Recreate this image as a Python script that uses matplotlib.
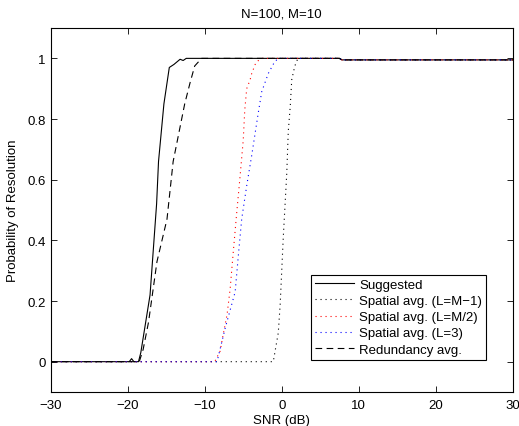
import matplotlib
matplotlib.use('Agg')
from matplotlib import pyplot as plt

plt.rcParams['font.family'] = ['Liberation Sans', 'DejaVu Sans']

# Suggested method
snr_sug = [-30, -19.8, -19.5, -19.2, -18.6, -18.3, -17.1, -16.25, -16.0, -15.3,
           -14.6, -14.0, -13.2, -12.8, -12.4, 7.5, 7.8, 30]
p_sug = [0, 0, 0.01, 0, 0, 0.03, 0.22, 0.52, 0.66, 0.85,
         0.97, 0.98, 0.997, 0.993, 1.0, 1.0, 0.995, 0.995]

# Spatial avg. (L=M-1)
snr_m1 = [-30, -1.1, -0.45, -0.2, 0.2, 0.65, 0.85, 1.1, 1.3, 1.7, 2.1, 7.5, 7.8, 30]
p_m1 = [0, 0, 0.095, 0.19, 0.41, 0.62, 0.76, 0.84, 0.93, 0.975, 1.0, 1.0, 0.995, 0.995]

# Spatial avg. (L=M/2)
snr_m2 = [-30, -8.7, -8.0, -7.6, -7.1, -6.7, -6.3, -5.85, -5.45, -5.0, -4.8, -4.55,
          -4.1, -3.9, -3.45, -3.2, -2.6, 7.5, 7.8, 30]
p_m2 = [0, 0, 0.035, 0.09, 0.155, 0.24, 0.36, 0.49, 0.6, 0.73, 0.83, 0.9,
        0.93, 0.95, 0.98, 0.99, 1.0, 1.0, 0.995, 0.995]

# Spatial avg. (L=3)
snr_l3 = [-30, -8.4, -7.35, -6.7, -6.05, -5.6, -5.2, -4.55, -3.9, -3.05, -2.6,
          -1.75, -0.9, -0.4, 7.5, 7.8, 30]
p_l3 = [0, 0, 0.11, 0.17, 0.23, 0.36, 0.47, 0.58, 0.68, 0.82, 0.89,
        0.95, 0.99, 1.0, 1.0, 0.995, 0.995]

# Redundancy avg.
snr_red = [-30, -18.5, -18.0, -17.3, -16.2, -14.9, -14.1, -12.6, -11.9, -11.3,
           -10.4, 7.5, 7.8, 30]
p_red = [0, 0, 0.04, 0.13, 0.33, 0.47, 0.66, 0.85, 0.92, 0.975,
         1.0, 1.0, 0.995, 0.995]

fs = 9.5

fig = plt.figure(figsize=(5.19, 4.27), dpi=100)
ax = fig.add_axes([0.0977, 0.0796, 0.8903, 0.8524])

dot = (0, (1, 3.5))
ax.plot(snr_sug, p_sug, '-', color='black', lw=0.8, label='Suggested')
ax.plot(snr_m1, p_m1, color='black', ls=dot, lw=0.8, label='Spatial avg. (L=M\u22121)')
ax.plot(snr_m2, p_m2, color='red', ls=dot, lw=0.8, label='Spatial avg. (L=M/2)')
ax.plot(snr_l3, p_l3, color='blue', ls=dot, lw=0.8, label='Spatial avg. (L=3)')
ax.plot(snr_red, p_red, color='black', ls=(0, (6, 4)), lw=0.8, label='Redundancy avg.')

ax.set_xlim(-30, 30)
ax.set_ylim(-0.1, 1.1)
ax.set_xticks(range(-30, 31, 10))
ax.set_yticks([0, 0.2, 0.4, 0.6, 0.8, 1])
ax.set_yticklabels(['0', '0.2', '0.4', '0.6', '0.8', '1'])
ax.tick_params(direction='in', top=True, right=True, labelsize=fs, length=4, width=0.6)
ax.tick_params(axis='x', pad=5)
for s in ax.spines.values():
    s.set_linewidth(0.8)

ax.set_title('N=100, M=10', fontsize=fs, pad=8)
ax.set_xlabel('SNR (dB)', fontsize=fs, labelpad=2)
ax.set_ylabel('Probability of Resolution', fontsize=fs, labelpad=6)

leg = ax.legend(loc='lower right', bbox_to_anchor=(0.957, 0.071), fontsize=fs,
                handlelength=3.0, fancybox=False, framealpha=1,
                borderpad=0.3, labelspacing=0.3, handletextpad=0.4)
leg.get_frame().set_edgecolor('black')
leg.get_frame().set_linewidth(0.8)

fig.savefig('out.png', dpi=100)
